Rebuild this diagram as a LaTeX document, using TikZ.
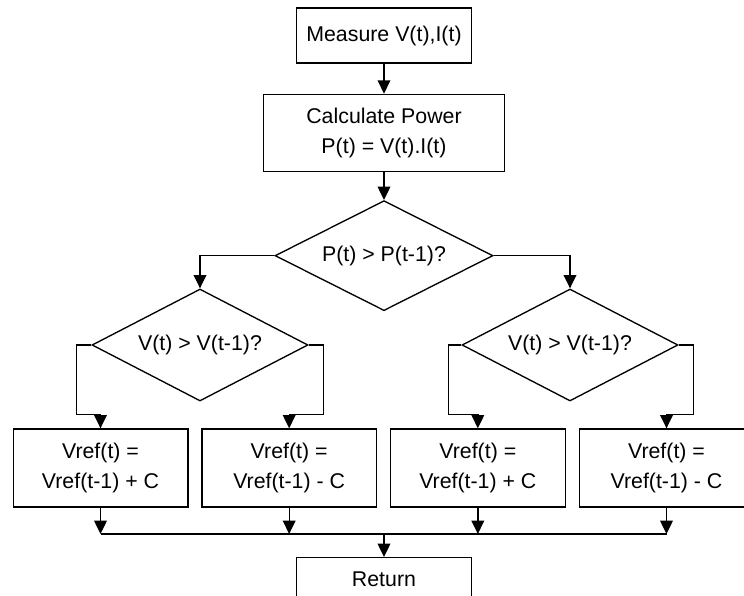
\documentclass[tikz,border=0pt]{standalone}
\usepackage{fontspec}
\setmainfont{Liberation Sans}
\usetikzlibrary{positioning, arrows.meta, shapes.geometric}

\begin{document}
\begin{tikzpicture}[x=0.75pt, y=-0.75pt, ->, >={Triangle[length=10pt,width=9.5pt]}, line width=1pt,
      block/.style={rectangle, draw, minimum width=131pt, minimum height=58.5pt, align=center, font=\fontsize{16}{22.5}\selectfont},
      decision/.style={diamond, draw, aspect=2, inner sep=0pt, minimum width=162pt, minimum height=84pt, font=\fontsize{16}{19}\selectfont}]

      \useasboundingbox (0,0) rectangle (744,596);

      \node[block, minimum height=41.25pt] (meas) at (384,35.5) {Measure V(t),I(t)};
      \node[block, minimum width=180.75pt, minimum height=57.75pt] (calc) [below=22.5pt of meas] {Calculate Power\\P(t) = V(t).I(t)};
      \node[decision, minimum width=163.5pt, minimum height=82.5pt] (pdec) [below=21pt of calc] {P(t) > P(t-1)?};
      \node[decision] (ldec) at (200,345) {V(t) > V(t-1)?};
      \node[decision] (rdec) at (570,345) {V(t) > V(t-1)?};

      \node[block] (b1) at (100.5,468) {Vref(t) =\\Vref(t-1) + C};
      \node[block] (b2) [right=9.5pt of b1] {Vref(t) =\\Vref(t-1) - C};
      \node[block] (b3) [right=9.5pt of b2] {Vref(t) =\\Vref(t-1) + C};
      \node[block] (b4) [right=9.5pt of b3] {Vref(t) =\\Vref(t-1) - C};

      \coordinate (m) at (384,534);
      \node[block, minimum height=33pt] (ret) [below=17.25pt of m] {Return};

      \draw (meas) -- (calc);
      \draw (calc) -- (pdec);
      \draw (pdec.west) -| (ldec.north);
      \draw (pdec.east) -| (rdec.north);

      \draw (ldec.west) -- ++(-15,0) |- ([yshift=10.5pt]b1.north) -- (b1.north);
      \draw (ldec.east) -- ++(15,0) |- ([yshift=10.5pt]b2.north) -- (b2.north);
      \draw (rdec.west) -- ++(-13,0) |- ([yshift=10.5pt]b3.north) -- (b3.north);
      \draw (rdec.east) -- ++(15,0) |- ([yshift=10.5pt]b4.north) -- (b4.north);

      \foreach \b in {b1,b2,b3,b4}
        \draw (\b.south) -- (\b.south |- m);
      \draw[-] (b1.south |- m) -- (b4.south |- m);
      \draw (m) -- (ret);
    \end{tikzpicture}
\end{document}
